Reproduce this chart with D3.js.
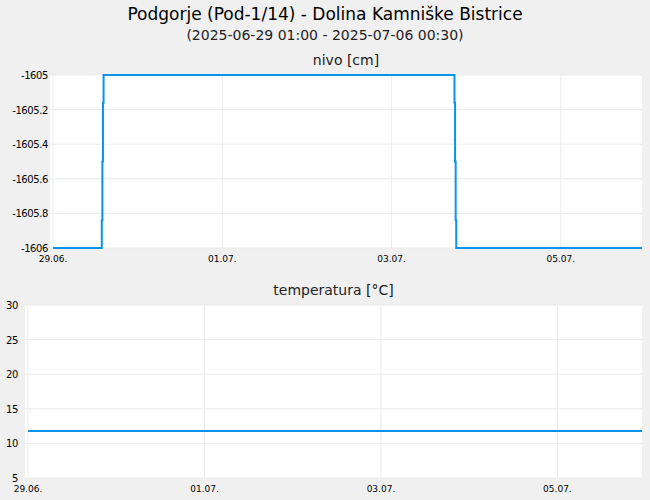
<!DOCTYPE html>
<html><head><meta charset="utf-8">
<script src="https://cdn.jsdelivr.net/npm/d3@7"></script>
<style>body{margin:0;background:#f0f0f0;font-family:"DejaVu Sans",sans-serif}</style>
</head><body><svg id="c" width="650" height="500"></svg>
<script>
const title = "Podgorje (Pod-1/14) - Dolina Kamniške Bistrice";
const subtitle = "(2025-06-29 01:00 - 2025-07-06 00:30)";
const nivoTimes = ["2025-06-29T00:00","2025-06-29T13:50","2025-06-29T13:50","2025-06-29T14:00","2025-06-29T14:00","2025-06-29T14:10","2025-06-29T14:10","2025-06-29T14:20","2025-06-29T14:20","2025-07-03T17:50","2025-07-03T17:50","2025-07-03T18:00","2025-07-03T18:00","2025-07-03T18:10","2025-07-03T18:10","2025-07-03T18:20","2025-07-03T18:20","2025-07-05T23:00"];
const nivoValues = [-1606,-1606,-1605.84,-1605.84,-1605.5,-1605.5,-1605.16,-1605.16,-1605,-1605,-1605.16,-1605.16,-1605.5,-1605.5,-1605.84,-1605.84,-1606,-1606];
const tempTimes = ["2025-06-29T00:00","2025-07-05T23:00"];
const tempValues = [11.8,11.8];
const nivoTicks = [-1606,-1605.8,-1605.6,-1605.4,-1605.2,-1605];
const tempTicks = [5,10,15,20,25,30];
const dayTicks = ["2025-06-29","2025-07-01","2025-07-03","2025-07-05"];

const svg = d3.select("#c");
const parse = d3.timeParse("%Y-%m-%dT%H:%M");
const pd = d3.timeParse("%Y-%m-%d");
const fmt = d3.timeFormat("%d.%m.");
const domainX = [parse("2025-06-29T00:00"), parse("2025-07-05T23:00")];
const color = "#0a93ec";

svg.append("text").attr("x",325).attr("y",20).attr("text-anchor","middle").attr("font-size",17).text(title);
svg.append("text").attr("x",325).attr("y",40).attr("text-anchor","middle").attr("font-size",14).attr("fill","#222").text(subtitle);

function panel(left, top, bottom, yDomain, ticks, times, values, label, tf, lx){
  const x = d3.scaleTime().domain(domainX).range([left+3, 642]);
  const y = d3.scaleLinear().domain(yDomain).range([bottom, top]);
  svg.append("rect").attr("x",left).attr("y",top).attr("width",642-left).attr("height",bottom-top).attr("fill","#fff");
  svg.append("text").attr("x",(left+642)/2).attr("y",top-10).attr("text-anchor","middle").attr("font-size",14).attr("fill","#222").text(label);
  const g = svg.append("g");
  ticks.forEach(t=>{
    g.append("line").attr("x1",left).attr("x2",642).attr("y1",y(t)).attr("y2",y(t)).attr("stroke","#ebebeb");
    g.append("text").attr("x",lx).attr("y",y(t)+4).attr("text-anchor","end").attr("font-size",10).attr("letter-spacing","-0.4").text(tf(t));
  });
  dayTicks.forEach(d=>{
    const xx = x(pd(d));
    g.append("line").attr("x1",xx).attr("x2",xx).attr("y1",top).attr("y2",bottom).attr("stroke","#ebebeb");
    g.append("text").attr("x",xx).attr("y",bottom+14).attr("text-anchor","middle").attr("font-size",9).text(fmt(pd(d)));
  });
  const data = times.map((t,i)=>[parse(t), values[i]]);
  svg.append("path").datum(data).attr("fill","none").attr("stroke",color).attr("stroke-width",2)
    .attr("d", d3.line().x(d=>x(d[0])).y(d=>y(d[1])));
}
panel(50, 75, 248, [-1606,-1605], nivoTicks, nivoTimes, nivoValues, "nivo [cm]", t=>String(+t.toFixed(1)), 48);
panel(25, 305, 478, [5,30], tempTicks, tempTimes, tempValues, "temperatura [°C]", t=>String(t), 18);
</script></body></html>
